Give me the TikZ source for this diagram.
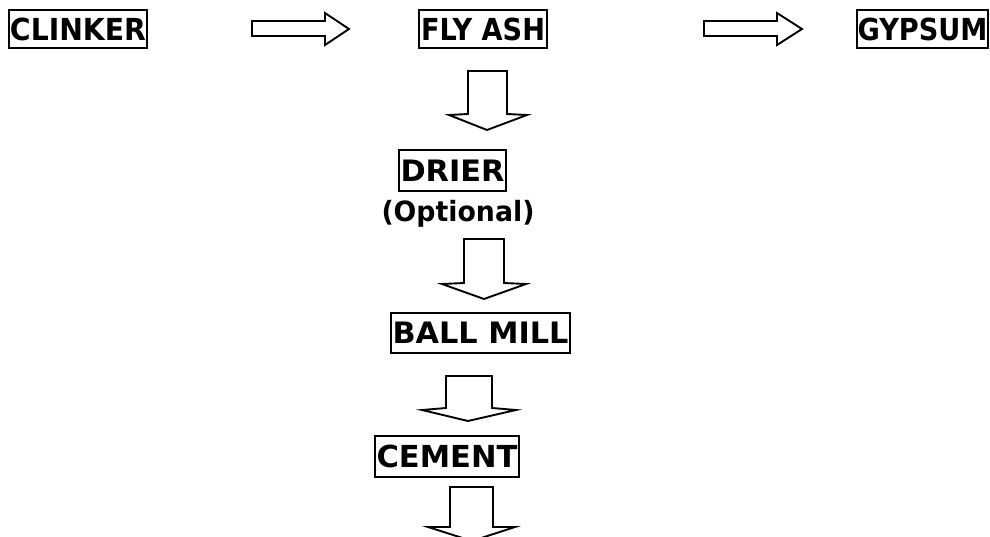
\documentclass[tikz,border=0pt]{standalone}
\usepackage{fontspec}
\setmainfont{DejaVu Sans}
\newcommand{\fitt}[3]{\resizebox{#1pt}{#2pt}{#3}}
\begin{document}
\begin{tikzpicture}[x=1pt,y=-1pt,
  lbl/.style={font=\fontsize{30}{32}\selectfont\bfseries, inner sep=0pt, text depth=0pt},
  boxed/.style={lbl, draw, line width=2pt},
  blockarrow/.style={draw, line width=1.9pt, line join=miter, fill=white}]
\useasboundingbox (0,0) rectangle (990,537);
\clip (0,0) rectangle (990,537);
% boxes
\node[boxed, minimum width=138pt, minimum height=38pt] (clinker) at (78,29) {\fitt{136}{22.5}{CLINKER}};
\node[boxed, minimum width=128pt, minimum height=38pt] (flyash) at (483,29) {\fitt{124}{22.5}{FLY ASH}};
\node[boxed, minimum width=131pt, minimum height=38pt] (gypsum) at (922.5,29) {\fitt{130}{22.5}{GYPSUM}};
\node[boxed, minimum width=107pt, minimum height=41pt] (drier) at (452.5,170.5) {\fitt{104}{21.5}{DRIER}};
\node[inner sep=0pt] (optional) at (458,213.5) {\resizebox*{153pt}{27pt}{\fontsize{30}{32}\selectfont\bfseries (Optional)}};
\node[boxed, minimum width=179pt, minimum height=40pt] (ballmill) at (480.5,333) {\fitt{176}{21.5}{BALL MILL}};
\node[boxed, minimum width=144pt, minimum height=41pt] (cement) at (447,456.5) {\fitt{141}{22.5}{CEMENT}};
% right block arrows
\draw[blockarrow] (252,21) -- (325,21) -- (325,13) -- (349,29) -- (325,45) -- (325,36) -- (252,36) -- cycle;
\draw[blockarrow] (704,21) -- (777,21) -- (777,13) -- (802,29) -- (777,45) -- (777,36) -- (704,36) -- cycle;
% down block arrows
\draw[blockarrow] (468,71) -- (507,71) -- (507,114) -- (527,115) -- (487,130) -- (449,115) -- (468,114) -- cycle;
\draw[blockarrow] (464,239) -- (504,239) -- (504,283) -- (526,284) -- (484,299) -- (442,284) -- (464,283) -- cycle;
\draw[blockarrow] (446,376) -- (492,376) -- (492,408) -- (516,410) -- (468,421) -- (422,410) -- (446,408) -- cycle;
\draw[blockarrow] (450,487) -- (493,487) -- (493,527) -- (515,527) -- (472,541) -- (428,527) -- (450,527) -- cycle;
\end{tikzpicture}
\end{document}
